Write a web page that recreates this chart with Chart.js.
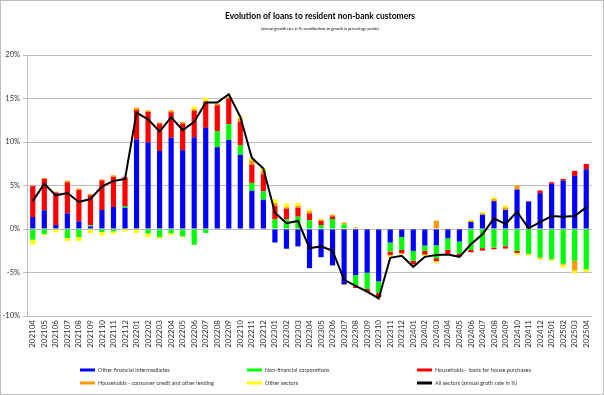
<!DOCTYPE html>
<html>
<head>
<meta charset="utf-8">
<script src="https://cdn.jsdelivr.net/npm/chart.js@4.4.1/dist/chart.umd.min.js"></script>
<style>
  html, body { margin: 0; padding: 0; background: #fff; }
  #wrap { position: relative; width: 602px; height: 393px; border: 1px solid #bfbfbf; }
</style>
</head>
<body>
<div id="wrap"><canvas id="chart" width="602" height="393"></canvas></div>
<script>
const months = [
  "202104","202105","202106","202107","202108","202109","202110","202111","202112",
  "202201","202202","202203","202204","202205","202206","202207","202208","202209","202210","202211","202212",
  "202301","202302","202303","202304","202305","202306","202307","202308","202309","202310","202311","202312",
  "202401","202402","202403","202404","202405","202406","202407","202408","202409","202410","202411","202412",
  "202501","202502","202503","202504"
];

// contributions to growth, percentage points
const otherFinancial = [
  1.38, 2.15, 0.46, 1.80, 0.88, 0.30, 2.18, 2.53, 2.45,
  10.30, 9.96, 8.97, 10.48, 9.06, 10.55, 11.62, 9.40, 10.25, 8.53, 4.40, 3.37,
  -1.55, -2.27, -2.00, -4.50, -3.24, -4.18, -6.34, -5.30, -5.02, -6.02, -1.56, -0.92,
  -2.52, -1.90, -1.87, -1.07, -1.45, 0.80, 1.64, 3.20, 2.18, 4.54, 3.13, 4.12,
  5.19, 5.57, 6.10, 6.87
];
const nonFinancialCorp = [
  -1.22, -0.57, -0.05, -1.03, -0.92, 0.12, -0.34, -0.27, 0.19,
  -0.05, -0.53, -0.92, -0.50, -0.84, -1.82, -0.45, 1.84, 1.80, 1.11, 0.90, 0.95,
  1.10, 1.10, 1.41, 1.00, 0.46, 1.15, 0.53, -1.28, -1.88, -1.35, -1.04, -1.48,
  -1.14, -0.62, -1.49, -1.33, -1.38, -2.40, -2.20, -2.14, -1.98, -2.52, -2.86, -3.28,
  -3.47, -4.00, -3.66, -4.62
];
const houseLoans = [
  3.55, 3.60, 3.74, 3.56, 3.60, 3.45, 3.42, 3.47, 3.30,
  3.38, 3.49, 3.13, 2.94, 3.04, 3.02, 2.95, 2.98, 2.94, 2.67, 2.10, 1.98,
  1.54, 1.23, 1.04, 0.78, 0.46, 0.30, -0.06, -0.20, -0.35, -0.48, -0.38, -0.39,
  -0.39, -0.42, -0.34, -0.46, -0.32, -0.27, -0.28, -0.19, -0.27, -0.23, 0.07, 0.31,
  0.19, 0.19, 0.58, 0.61
];
const consumerCredit = [
  0.05, 0.11, 0.10, 0.19, 0.16, 0.15, 0.10, 0.17, 0.06,
  0.27, 0.19, 0.16, 0.23, 0.20, 0.23, 0.20, 0.18, 0.19, 0.39, 0.50, 0.40,
  0.36, 0.17, 0.19, 0.25, 0.14, 0.19, 0.20, 0.17, 0.08, 0.05, -0.10, -0.05,
  -0.05, -0.05, 0.95, 0.03, 0.08, 0.15, 0.16, 0.24, 0.30, 0.46, -0.03, -0.10,
  -0.05, -0.10, -1.11, -0.05
];
const otherSectors = [
  -0.58, -0.13, -0.35, -0.34, -0.45, -0.46, -0.42, -0.30, -0.30,
  -0.41, -0.39, -0.18, -0.23, -0.12, 0.27, 0.30, 0.05, 0.19, 0.26, 0.28, 0.33,
  0.40, 0.44, 0.34, 0.23, 0.12, -0.08, -0.05, 0.00, -0.05, -0.12, -0.16, -0.10,
  -0.12, -0.14, -0.20, -0.03, -0.03, 0.12, 0.15, 0.22, 0.22, -0.23, -0.16, -0.17,
  -0.14, -0.33, -0.33, -0.29
];
// annual growth rate, %
const allSectors = [
  3.20, 5.20, 3.87, 4.14, 3.10, 3.45, 4.87, 5.52, 5.75,
  13.37, 12.60, 11.20, 12.85, 11.36, 12.31, 14.53, 14.53, 15.49, 12.90, 8.18, 6.96,
  1.87, 0.67, 0.92, -2.20, -2.00, -2.50, -5.84, -6.53, -7.20, -7.98, -3.32, -3.09,
  -4.35, -3.20, -2.98, -2.94, -3.20, -1.76, -0.60, 1.22, 0.57, 1.98, 0.08, 0.80,
  1.49, 1.41, 1.49, 2.48
];

const seriesNames = [
  "Other financial intermediaries",
  "Non-financial corporations",
  "Households - loans for house purchases",
  "Households - consumer credit and other lending",
  "Other sectors",
  "All sectors (annual groth rate in %)"
];
const seriesColors = ["#0000ff", "#00ff00", "#ff0000", "#ff9900", "#ffff00", "#000000"];

const titleText = "Evolution of loans to resident non-bank customers";
const subtitleText = "(annual growth rate in %, contributions to growth in percentage points)";

function barSet(i, data) {
  return {
    type: "bar",
    label: seriesNames[i],
    data: data,
    backgroundColor: seriesColors[i],
    borderWidth: 0,
    stack: "contrib",
    order: 1,
    barPercentage: 0.45,
    categoryPercentage: 1.0
  };
}

// title, subtitle and the 3-column legend
const headerLegend = {
  id: "headerLegend",
  afterDraw(chart) {
    const ctx = chart.ctx;
    ctx.save();
    ctx.fillStyle = "#000";
    ctx.textAlign = "center";
    ctx.textBaseline = "middle";
    ctx.font = "bold 8.5px Lato";
    ctx.fillText(titleText, 319, 15);
    ctx.font = "3.8px Lato";
    ctx.fillText(subtitleText, 319, 28);

    const colX = [79, 246, 416];
    const rowY = [369, 382];
    ctx.textAlign = "left";
    ctx.font = "5.5px Lato";
    seriesNames.forEach((name, i) => {
      const x = colX[i % 3];
      const y = rowY[Math.floor(i / 3)];
      ctx.strokeStyle = seriesColors[i];
      ctx.lineWidth = 3;
      ctx.beginPath();
      ctx.moveTo(x, y);
      ctx.lineTo(x + 15, y);
      ctx.stroke();
      ctx.fillStyle = "#333";
      ctx.fillText(name, x + 18, y);
    });
    ctx.restore();
  }
};

new Chart(document.getElementById("chart"), {
  data: {
    labels: months,
    datasets: [
      barSet(0, otherFinancial),
      barSet(1, nonFinancialCorp),
      barSet(2, houseLoans),
      barSet(3, consumerCredit),
      barSet(4, otherSectors),
      {
        type: "line",
        label: seriesNames[5],
        data: allSectors,
        borderColor: "#000",
        borderWidth: 2,
        pointRadius: 0,
        tension: 0,
        stack: "total",
        order: 0
      }
    ]
  },
  options: {
    responsive: false,
    animation: false,
    layout: { padding: { top: 54, right: 11, bottom: 0, left: 0 } },
    plugins: {
      legend: { display: false },
      title: { display: false },
      tooltip: { enabled: false }
    },
    scales: {
      x: {
        stacked: true,
        grid: { display: false, drawTicks: false },
        border: { display: false },
        ticks: {
          autoSkip: false,
          maxRotation: 90,
          minRotation: 90,
          padding: 4,
          color: "#333",
          font: { family: "Lato", size: 8 }
        },
        afterFit: scale => { scale.height = 78; }
      },
      y: {
        stacked: true,
        min: -10,
        max: 20,
        grid: { color: "#bdbdbd", lineWidth: 1, tickLength: 4 },
        border: { display: true, color: "#bdbdbd" },
        ticks: {
          stepSize: 5,
          padding: 3,
          color: "#333",
          font: { family: "Lato", size: 7.5 },
          callback: v => v + "%"
        },
        afterFit: scale => { scale.width = 26; }
      }
    }
  },
  plugins: [headerLegend]
});
</script>
</body>
</html>
